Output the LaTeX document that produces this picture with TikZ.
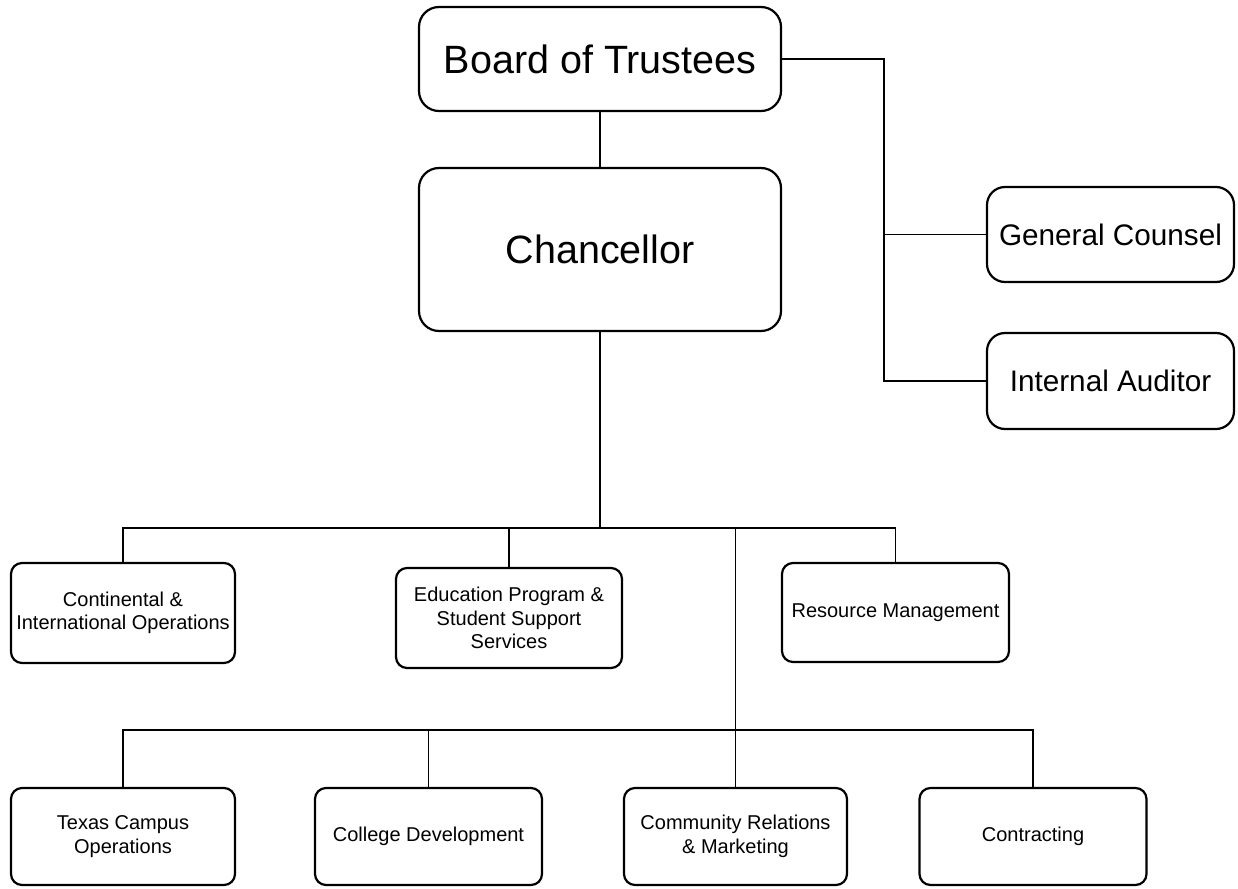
\documentclass[tikz,border=0pt]{standalone}
\usepackage{fontspec}
\setmainfont{Liberation Sans}
\begin{document}
\begin{tikzpicture}[x=1pt,y=-1pt,
  boxbase/.style={draw, line width=2.2pt, fill=white, inner sep=0pt, align=center},
  bigbox/.style={boxbase, rounded corners=20pt, font=\fontsize{39.5}{44}\selectfont},
  midbox/.style={boxbase, rounded corners=18pt, font=\fontsize{29.7}{34}\selectfont},
  smallbox/.style={boxbase, rounded corners=11pt, font=\fontsize{20}{23.5}\selectfont},
  link/.style={line width=1.6pt}]
\useasboundingbox (0,0) rectangle (1238,888);
% top
\node[bigbox, minimum width=362pt, minimum height=104pt] (board) at (600,59) {Board of Trustees};
\node[bigbox, minimum width=362pt, minimum height=163pt] (chan) at (600,249.5) {Chancellor};
\node[midbox, minimum width=247pt, minimum height=95pt] (gc) at (1110.5,234.5) {General Counsel};
\node[midbox, minimum width=247pt, minimum height=96pt] (ia) at (1110.5,381) {Internal Auditor};
% level 1
\node[smallbox, minimum width=224pt, minimum height=100pt] (cont) at (123,613) {Continental \&\\International Operations};
\node[smallbox, minimum width=226pt, minimum height=100pt] (edu) at (509,618) {Education Program \&\\Student Support\\Services};
\node[smallbox, minimum width=227pt, minimum height=99pt] (res) at (895.5,612.5) {Resource Management};
% level 2
\node[smallbox, minimum width=224pt, minimum height=97pt] (texas) at (123,836.5) {Texas Campus\\Operations};
\node[smallbox, minimum width=227pt, minimum height=97pt] (coll) at (428.5,836.5) {College Development};
\node[smallbox, minimum width=223pt, minimum height=97pt] (comm) at (735.5,836.5) {Community Relations\\\& Marketing};
\node[smallbox, minimum width=227pt, minimum height=97pt] (contr) at (1033,836.5) {Contracting};
% helper coordinates
\coordinate (rx) at (884,0);
\coordinate (h1) at (600,528);
\coordinate (h2) at (735,730);
% connectors
\draw[link] (board.south) -- (chan.north);
\draw[link] (board.east) -- (board.east -| rx) |- (ia.west);
\draw[link] (gc.west) -- (gc.west -| rx);
\draw[link] (chan.south) -- (h1);
\draw[link] (cont.north) |- (res.north |- h1) -- (res.north);
\draw[link] (edu.north) -- (edu.north |- h1);
\draw[link] (comm.north |- h1) -- (comm.north);
\draw[link] (texas.north) |- (contr.north |- h2) -- (contr.north);
\draw[link] (coll.north) -- (coll.north |- h2);
\end{tikzpicture}
\end{document}
